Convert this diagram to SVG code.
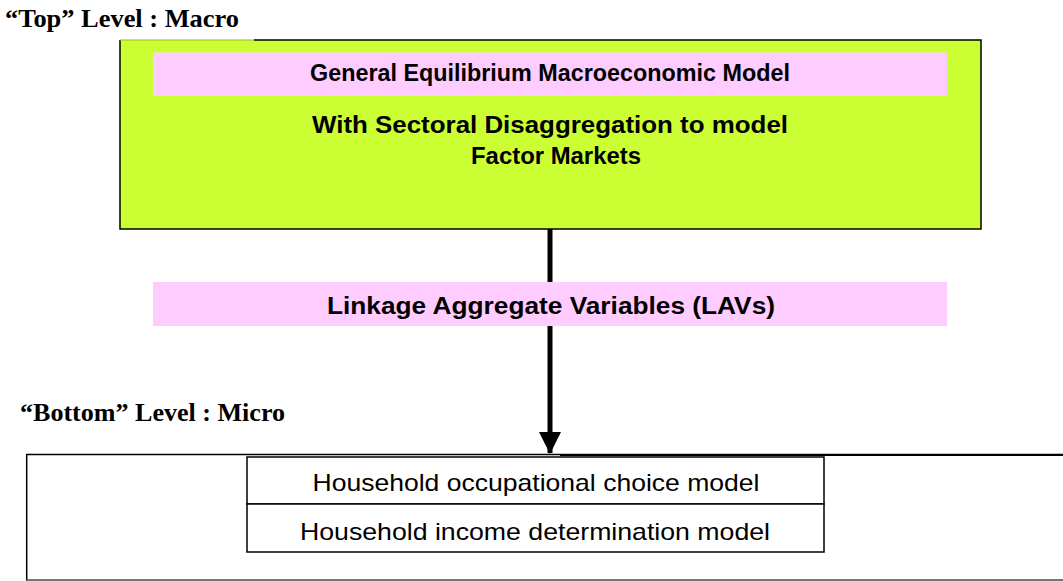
<svg xmlns="http://www.w3.org/2000/svg" width="1063" height="581" viewBox="0 0 1063 581">
<style>
.lvl{font-family:"Liberation Serif",serif;font-weight:bold;font-size:25px;fill:#000}
.hd{font-family:"Liberation Sans",Arial,sans-serif;font-weight:bold;font-size:23px;fill:#000;text-anchor:middle}
.hh{font-family:"Liberation Sans",Arial,sans-serif;font-size:24px;fill:#000;text-anchor:middle}
.band{fill:#FFCCFF}
.box{fill:#fff;stroke:#000;stroke-width:1.5}
</style>
<defs>
<marker id="ah" markerUnits="userSpaceOnUse" markerWidth="22" markerHeight="22" refX="21" refY="11" orient="auto" viewBox="0 0 22 22">
<path d="M0,0 L22,11 L0,22 Z" fill="#000"/>
</marker>
</defs>
<rect width="1063" height="581" fill="#fff"/>
<text class="lvl" x="5" y="27" textLength="234" lengthAdjust="spacingAndGlyphs">“Top” Level : Macro</text>
<g id="macro">
<rect x="120" y="40" width="861" height="189" fill="#CCFF33"/>
<path d="M120,40 V229 H981 V40 H254" fill="none" stroke="#000" stroke-width="1.5"/>
<path d="M120,40 H254" fill="none" stroke="#99bb33" stroke-width="1"/>
<rect class="band" x="153" y="52.5" width="794" height="43.5"/>
<text class="hd" x="550" y="81" textLength="480" lengthAdjust="spacingAndGlyphs">General Equilibrium Macroeconomic Model</text>
<text class="hd" x="550" y="133" textLength="476" lengthAdjust="spacingAndGlyphs">With Sectoral Disaggregation to model</text>
<text class="hd" x="556" y="164" textLength="170" lengthAdjust="spacingAndGlyphs">Factor Markets</text>
</g>
<g id="connectors">
<line x1="550" y1="229" x2="550" y2="282" stroke="#000" stroke-width="5"/>
<line x1="550" y1="326" x2="550" y2="453" stroke="#000" stroke-width="5" marker-end="url(#ah)"/>
</g>
<g id="lavs">
<rect class="band" x="153" y="282" width="794" height="44"/>
<text class="hd" x="551" y="314" textLength="448" lengthAdjust="spacingAndGlyphs">Linkage Aggregate Variables (LAVs)</text>
</g>
<text class="lvl" x="20" y="421" textLength="265" lengthAdjust="spacingAndGlyphs">“Bottom” Level : Micro</text>
<g id="micro">
<path d="M1063,580 H26.7 V454.5 H1063" fill="none" stroke="#000" stroke-width="1.5"/>
<line x1="26.7" y1="580" x2="1063" y2="580" stroke="#888" stroke-width="1.5"/>
<line x1="560" y1="455" x2="1063" y2="455" stroke="#000" stroke-width="2"/>
</g>
<g id="occupational">
<rect class="box" x="247" y="457" width="577" height="47"/>
<text class="hh" x="536" y="491" textLength="447" lengthAdjust="spacingAndGlyphs">Household occupational choice model</text>
</g>
<g id="income">
<rect class="box" x="247" y="504" width="577" height="48"/>
<text class="hh" x="535" y="540" textLength="470" lengthAdjust="spacingAndGlyphs">Household income determination model</text>
</g>
</svg>
